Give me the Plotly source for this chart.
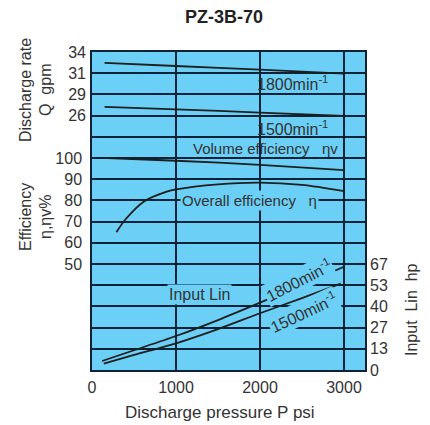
import plotly.graph_objects as go

# ---------------- data ----------------
pressure_q = [150, 1000, 2000, 3000]            # psi
q_1800 = [33.0, 32.6, 32.15, 31.65]             # gpm
q_1500 = [27.5, 27.2, 26.8, 26.37]              # gpm

pressure_ev = [180, 1000, 2000, 3000]
eff_volume = [100.0, 98.7, 96.8, 94.3]          # %

pressure_eo = [290, 400, 615, 890, 1000, 1500, 2000, 2500, 3000]
eff_overall = [65.0, 71.1, 79.4, 84.1, 85.2, 87.6, 88.4, 87.3, 84.4]  # %

pressure_p1800 = [120, 500, 1000, 1500, 2000, 2500, 3000]
power_1800 = [5.7, 12.5, 21.5, 31.6, 42.6, 53.8, 65.3]   # hp
pressure_p1500 = [140, 500, 1000, 1500, 2000, 2500, 2960]
power_1500 = [4.0, 9.5, 16.9, 25.9, 35.9, 45.5, 54.6]    # hp

x_ticks = [0, 1000, 2000, 3000]
gpm_tick_text = ["34", "31", "29", "26"]
gpm_tick_lmin = [130, 120, 110, 100]            # underlying L/min positions
eff_tick_vals = [50, 60, 70, 80, 90, 100]
hp_tick_text = ["0", "13", "27", "40", "53", "67"]
hp_tick_kw = [0, 10, 20, 30, 40, 50]            # underlying kW positions

LMIN_PER_GPM = 3.785
HP_PER_KW = 1.341

# ---------------- style ----------------
BG = "#6BCFF6"
GRID = "#0B2238"
LINE = "#1E1E1E"
TXT = "#333333"
FONT = "Liberation Sans"

# page body has an 8px margin: size the figure so the plot lands where the reference has it
OFF = 8
W, H = 430 - OFF, 425 - OFF
L, T, R, B = 92 - OFF, 52 - OFF, 65, 55

fig = go.Figure()

def add(x, y, axis):
    fig.add_trace(go.Scatter(x=x, y=y, mode="lines", yaxis=axis,
                             line=dict(color=LINE, width=1.8, shape="spline", smoothing=0.8),
                             showlegend=False, hoverinfo="skip"))

add(pressure_q, q_1800, "y2")
add(pressure_q, q_1500, "y2")
add(pressure_ev, eff_volume, "y")
add(pressure_eo, eff_overall, "y")
add(pressure_p1800, power_1800, "y3")
add(pressure_p1500, power_1500, "y3")

tickfont = dict(family=FONT, size=16, color=TXT)

fig.update_layout(
    width=W, height=H,
    margin=dict(l=L, r=R, t=T, b=B),
    paper_bgcolor="white", plot_bgcolor=BG,
    font=dict(family=FONT, color=TXT),
    xaxis=dict(range=[0, 3250], tickvals=x_ticks, tickfont=tickfont, automargin=False,
               showgrid=True, gridcolor=GRID, gridwidth=1.5, zeroline=False,
               showline=True, linecolor=GRID, linewidth=1.5, mirror=True,
               ticks="", ticklabelstandoff=2),
    yaxis=dict(range=[0, 150], tickvals=eff_tick_vals, automargin=False,
               tickfont=tickfont, showgrid=True, gridcolor=GRID, gridwidth=1.5,
               minor=dict(tick0=0, dtick=10, showgrid=True, gridcolor=GRID, gridwidth=1.5, ticks=""),
               zeroline=False, showline=True, linecolor=GRID, linewidth=1.5,
               mirror=True, ticks="", ticklabelstandoff=5),
    yaxis2=dict(range=[-20 / LMIN_PER_GPM, 130 / LMIN_PER_GPM], overlaying="y", side="left",
                tickvals=[v / LMIN_PER_GPM for v in gpm_tick_lmin], ticktext=gpm_tick_text,
                tickfont=tickfont, showgrid=False, zeroline=False, showline=False,
                automargin=False, ticks="", ticklabelstandoff=5),
    yaxis3=dict(range=[0, 15 * 10 * HP_PER_KW], overlaying="y", side="right",
                tickvals=[v * HP_PER_KW for v in hp_tick_kw], ticktext=hp_tick_text,
                tickfont=tickfont, showgrid=False, zeroline=False, showline=False,
                automargin=False, ticks="", ticklabelstandoff=4),
)

ann = []
def a(text, x, y, size=15, angle=0, bg=None, xref="x", yref="y", color=TXT, **kw):
    d = dict(text=text, x=x, y=y, xref=xref, yref=yref, showarrow=False,
             xanchor="center", yanchor="middle",
             font=dict(family=FONT, size=size, color=color), textangle=angle)
    if bg:
        d.update(bgcolor=bg, borderpad=1)
    d.update(kw)
    ann.append(d)

# paper coordinates from pixel positions in the reference window
def px(xp, yp):
    xp -= OFF
    yp -= OFF
    return (xp - L) / (W - L - R), 1 - (yp - T) / (H - T - B)

tx, ty = px(224, 17)
a("<b>PZ-3B-70</b>", tx, ty, size=18, xref="paper", yref="paper", color="#222222")
x1, y1 = px(25, 90)
a("Discharge rate", x1, y1, size=16, angle=-90, xref="paper", yref="paper")
x1, y1 = px(45, 90)
a("Q  gpm", x1, y1, size=16, angle=-90, xref="paper", yref="paper")
x1, y1 = px(25, 217)
a("Efficiency", x1, y1, size=16, angle=-90, xref="paper", yref="paper")
x1, y1 = px(45, 217)
a("η,ηv%", x1, y1, size=16, angle=-90, xref="paper", yref="paper")
x1, y1 = px(411, 310)
a("Input  Lin  hp", x1, y1, size=16, angle=-90, xref="paper", yref="paper")
x1, y1 = px(220, 412)
a("Discharge pressure P psi", x1, y1, size=17, xref="paper", yref="paper")

# in-plot labels
a("1800min<sup>-1</sup>", 2390, 30.45, size=16, yref="y2")
a("1500min<sup>-1</sup>", 2390, 24.9, size=16, yref="y2")
a("Volume efficiency   ηv", 2060, 104.3)
a("Overall efficiency   η", 1880, 80, bg=BG)
a("Input Lin", 1275, 47.5, size=16, yref="y3", bg=BG)
a("1800min<sup>-1</sup>", 2460, 57.0, size=16, yref="y3", angle=-27, bg=BG)
a("1500min<sup>-1</sup>", 2520, 36.5, size=16, yref="y3", angle=-25, bg=BG)

fig.update_layout(annotations=ann)
fig.write_html("out.html")
